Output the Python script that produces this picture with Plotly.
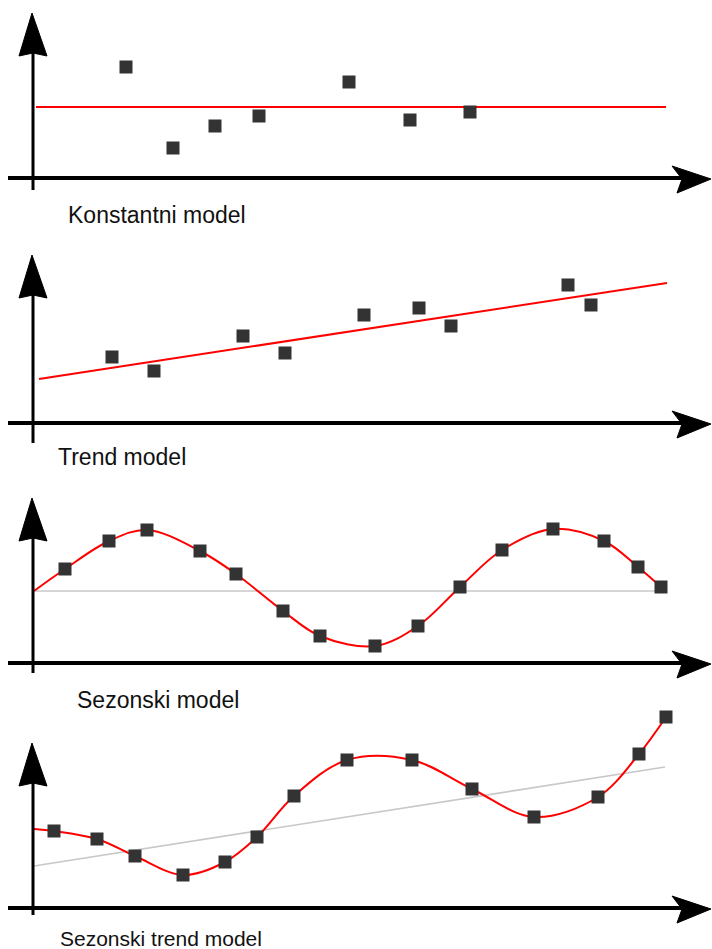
import plotly.graph_objects as go

W, H = 712, 949

# ---------------- data (time index, value) ----------------
# Panel 1: constant model
const_x = [9.3, 14.0, 18.2, 22.6, 31.6, 37.7, 43.7]
const_y = [11.1, 3.0, 5.2, 6.2, 9.6, 5.8, 6.6]
const_line_x = [0.3, 63.3]
const_line_y = [7.1, 7.1]

# Panel 2: trend model
trend_x = [7.9, 12.1, 21.0, 25.2, 33.1, 38.6, 41.8, 53.5, 55.8]
trend_y = [6.6, 5.2, 8.7, 7.0, 10.8, 11.5, 9.7, 13.8, 11.8]
trend_line_x = [0.6, 63.4]
trend_line_y = [4.4, 14.0]

# Panel 3: seasonal model
seas_x = [3.2, 7.6, 11.4, 16.7, 20.3, 25.0, 28.7, 34.2, 38.5, 42.7, 46.9, 52.0, 57.1, 60.5, 62.8]
seas_y = [9.4, 12.2, 13.3, 11.2, 8.9, 5.2, 2.7, 1.7, 3.7, 7.6, 11.3, 13.4, 12.2, 9.6, 7.6]
seas_base_x = [0.1, 63.3]
seas_base_y = [7.2, 7.2]
seas_curve_x = [0.1] + seas_x
seas_curve_y = [7.2] + seas_y

# Panel 4: seasonal trend model
st_x = [2.1, 6.4, 10.2, 15.0, 19.2, 22.4, 26.1, 31.4, 37.9, 43.9, 50.1, 56.5, 60.6, 63.3]
st_y = [7.7, 6.9, 5.2, 3.3, 4.6, 7.1, 11.2, 14.8, 14.8, 11.9, 9.1, 11.1, 15.4, 19.1]
st_trend_x = [0.1, 63.2]
st_trend_y = [4.2, 14.1]
st_curve_x = [0.1] + st_x
st_curve_y = [7.9] + st_y

labels = ["Konstantni model", "Trend model", "Sezonski model", "Sezonski trend model"]

# ---------------- layout geometry ----------------
PX_PER_UNIT = 10.0
X0_PX = 33.0
bands = [(0, 237), (237, 475), (475, 712), (712, 949)]
axis_px = [178, 423, 663, 908]
arrow_tip_px = [13, 255, 498, 743]
vline_bottom_px = [190, 443, 673, 915]
label_pos = [(66, 215, 23), (56, 457, 23), (75, 700, 23), (58, 938, 21)]

MARK = dict(symbol="square", size=13, color="#333333")
RED = dict(color="#ff0000", width=2)
GRAY = dict(color="#c8c8c8", width=1.6)

fig = go.Figure()

def ax(i):
    return ("x" if i == 0 else f"x{i+1}", "y" if i == 0 else f"y{i+1}")

panels = [
    [(const_line_x, const_line_y, RED, "linear"), (const_x, const_y, None, None)],
    [(trend_line_x, trend_line_y, RED, "linear"), (trend_x, trend_y, None, None)],
    [(seas_base_x, seas_base_y, GRAY, "linear"), (seas_curve_x, seas_curve_y, RED, "spline"),
     (seas_x, seas_y, None, None)],
    [(st_trend_x, st_trend_y, GRAY, "linear"), (st_curve_x, st_curve_y, RED, "spline"),
     (st_x, st_y, None, None)],
]

xrange = [-X0_PX / PX_PER_UNIT, (W - X0_PX) / PX_PER_UNIT]
shapes = []
annotations = []
for i, traces in enumerate(panels):
    xa, ya = ax(i)
    for xs, ys, line, shape in traces:
        if line is None:
            fig.add_trace(go.Scatter(x=xs, y=ys, mode="markers", marker=MARK,
                                     xaxis=xa, yaxis=ya, cliponaxis=False, showlegend=False))
        else:
            fig.add_trace(go.Scatter(x=xs, y=ys, mode="lines", line=dict(line, shape=shape, smoothing=1.0),
                                     xaxis=xa, yaxis=ya, cliponaxis=False, showlegend=False))
    top, bot = bands[i]
    a = axis_px[i]
    yr = [(a - bot) / PX_PER_UNIT, (a - top) / PX_PER_UNIT]
    key = "" if i == 0 else str(i + 1)
    fig.layout["xaxis" + key] = dict(domain=[0, 1], range=xrange, visible=False, fixedrange=True,
                                     anchor=ya)
    fig.layout["yaxis" + key] = dict(domain=[1 - bot / H, 1 - top / H], range=yr, visible=False,
                                     fixedrange=True, anchor=xa)

    # axes with arrowheads (decoration, in the panel's own units)
    u = lambda px: (px - X0_PX) / PX_PER_UNIT
    v = lambda py: (a - py) / PX_PER_UNIT
    tip = arrow_tip_px[i]
    shapes.append(dict(type="line", xref=xa, yref=ya, x0=0, x1=0, y0=v(vline_bottom_px[i]), y1=v(tip + 30),
                       line=dict(color="black", width=3)))
    path = (f"M {u(32)},{v(tip)} L {u(47)},{v(tip + 43)} L {u(33)},{v(tip + 40)} "
            f"L {u(19)},{v(tip + 43)} Z")
    shapes.append(dict(type="path", xref=xa, yref=ya, path=path, fillcolor="black",
                       line=dict(color="black", width=1)))
    shapes.append(dict(type="line", xref=xa, yref=ya, x0=u(8), x1=u(690), y0=0, y1=0,
                       line=dict(color="black", width=4)))
    path = (f"M {u(711)},{v(a + 1)} L {u(672)},{v(a - 12)} L {u(682)},{v(a + 1)} "
            f"L {u(677)},{v(a + 15)} Z")
    shapes.append(dict(type="path", xref=xa, yref=ya, path=path, fillcolor="black",
                       line=dict(color="black", width=1)))

    lx, ly, fs = label_pos[i]
    annotations.append(dict(text=labels[i], xref="paper", yref="paper", x=lx / W, y=1 - ly / H,
                            xanchor="left", yanchor="middle", showarrow=False,
                            font=dict(family="Liberation Sans, Arial, sans-serif", size=fs,
                                      color="#111111")))

fig.update_layout(width=W, height=H, autosize=False, margin=dict(l=0, r=0, t=0, b=0, pad=0),
                  paper_bgcolor="white", plot_bgcolor="rgba(0,0,0,0)",
                  shapes=shapes, annotations=annotations, showlegend=False)

fig.write_html("out.html", config={"displayModeBar": False},
               post_script="document.body.style.margin='0';document.body.style.overflow='hidden';")
